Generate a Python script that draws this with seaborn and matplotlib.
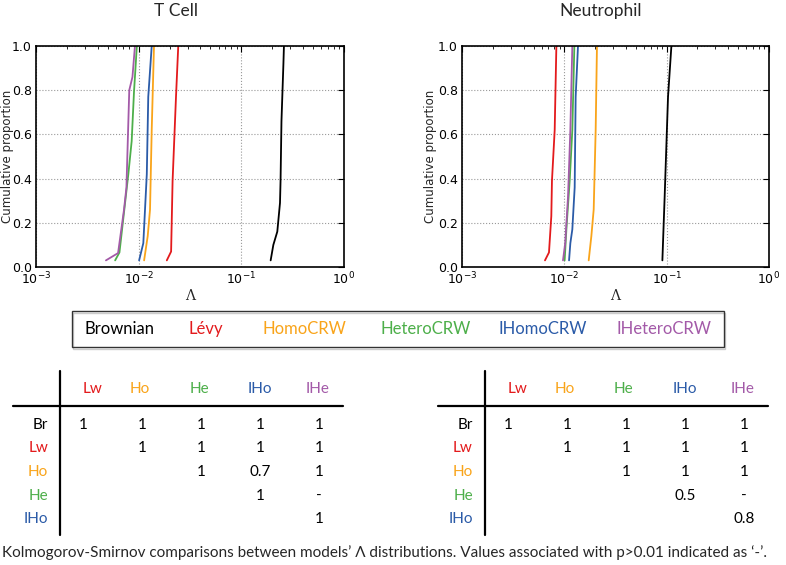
import matplotlib
matplotlib.use("Agg")
import matplotlib.pyplot as plt
import seaborn as sns
from matplotlib.patches import Rectangle
from matplotlib.ticker import LogLocator, MultipleLocator

# Modelos e cores
modelos = ["Brownian", "Lévy", "HomoCRW", "HeteroCRW", "IHomoCRW", "IHeteroCRW"]
cores = ["#000000", "#e31a1c", "#f9a41a", "#4daf4a", "#2b5ba8", "#a35aa8"]

# T Cell: valores de Lambda (x) e proporção acumulada (y)
tc_brownian_x = [0.193, 0.205, 0.224, 0.238, 0.241, 0.246, 0.257, 0.260]
tc_brownian_y = [0.03, 0.10, 0.16, 0.29, 0.39, 0.66, 0.92, 1.0]
tc_levy_x = [0.0188, 0.0207, 0.0214, 0.0231, 0.0243]
tc_levy_y = [0.03, 0.07, 0.39, 0.77, 1.0]
tc_homo_x = [0.0113, 0.01225, 0.0129, 0.0134, 0.0141]
tc_homo_y = [0.03, 0.14, 0.26, 0.62, 1.0]
tc_hetero_x = [0.0059, 0.0065, 0.00793, 0.00855, 0.0090, 0.0096]
tc_hetero_y = [0.03, 0.066, 0.42, 0.57, 0.79, 1.0]
tc_ihomo_x = [0.0101, 0.0111, 0.0120, 0.0124, 0.0134]
tc_ihomo_y = [0.03, 0.108, 0.42, 0.77, 1.0]
tc_ihetero_x = [0.0048, 0.0063, 0.0072, 0.0076, 0.0081, 0.0087, 0.0092]
tc_ihetero_y = [0.03, 0.063, 0.26, 0.36, 0.80, 0.86, 1.0]

# Neutrophil
ne_brownian_x = [0.0908, 0.0956, 0.1031, 0.1112]
ne_brownian_y = [0.03, 0.32, 0.77, 1.0]
ne_levy_x = [0.00647, 0.00708, 0.00746, 0.00757, 0.00805, 0.00836]
ne_levy_y = [0.03, 0.066, 0.23, 0.39, 0.62, 1.0]
ne_homo_x = [0.0173, 0.01837, 0.01936, 0.02024, 0.02084]
ne_homo_y = [0.03, 0.14, 0.26, 0.62, 1.0]
ne_hetero_x = [0.01007, 0.01047, 0.01128, 0.01197, 0.01253]
ne_hetero_y = [0.03, 0.17, 0.39, 0.62, 1.0]
ne_ihomo_x = [0.01112, 0.01145, 0.01197, 0.01262, 0.0129, 0.0136]
ne_ihomo_y = [0.03, 0.108, 0.17, 0.36, 0.77, 1.0]
ne_ihetero_x = [0.0097, 0.0102, 0.01087, 0.01145, 0.01197]
ne_ihetero_y = [0.03, 0.108, 0.32, 0.62, 1.0]

# Tabelas Kolmogorov-Smirnov
linhas_tab = ["Br", "Lw", "Ho", "He", "IHo"]
colunas_tab = ["Lw", "Ho", "He", "IHo", "IHe"]
tc_tabela_br = ["1", "1", "1", "1", "1"]
tc_tabela_lw = ["", "1", "1", "1", "1"]
tc_tabela_ho = ["", "", "1", "0.7", "1"]
tc_tabela_he = ["", "", "", "1", "-"]
tc_tabela_iho = ["", "", "", "", "1"]
ne_tabela_br = ["1", "1", "1", "1", "1"]
ne_tabela_lw = ["", "1", "1", "1", "1"]
ne_tabela_ho = ["", "", "1", "1", "1"]
ne_tabela_he = ["", "", "", "0.5", "-"]
ne_tabela_iho = ["", "", "", "", "0.8"]

legenda_texto = "Kolmogorov-Smirnov comparisons between models’ Λ distributions. Values associated with p>0.01 indicated as ‘-’."

sns.set_style("white")
plt.rcParams.update({
    "xtick.direction": "in", "ytick.direction": "in",
    "xtick.top": True, "ytick.right": True,
    "xtick.major.size": 4, "ytick.major.size": 4,
    "xtick.minor.size": 2, "ytick.minor.size": 2,
    "xtick.major.width": 0.8, "ytick.major.width": 0.8,
    "axes.edgecolor": "black", "axes.linewidth": 1.2,
    "xtick.labelsize": 9, "ytick.labelsize": 9,
    "xtick.color": "black", "ytick.color": "black",
    "font.size": 9,
})
plt.rcParams["font.family"] = ["DejaVu Sans"]
fonte_texto = ["Lato", "DejaVu Sans"]

fig = plt.figure(figsize=(7.86, 5.65), dpi=100)
W, H = 786, 565

def eixo(x0, x1, y0, y1):
    return fig.add_axes([x0 / W, 1 - y1 / H, (x1 - x0) / W, (y1 - y0) / H])

ax_tc = eixo(36, 344, 46, 267)
ax_ne = eixo(462, 769, 46, 267)

series_tc = [(tc_brownian_x, tc_brownian_y), (tc_levy_x, tc_levy_y), (tc_homo_x, tc_homo_y),
             (tc_hetero_x, tc_hetero_y), (tc_ihomo_x, tc_ihomo_y), (tc_ihetero_x, tc_ihetero_y)]
series_ne = [(ne_brownian_x, ne_brownian_y), (ne_levy_x, ne_levy_y), (ne_homo_x, ne_homo_y),
             (ne_hetero_x, ne_hetero_y), (ne_ihomo_x, ne_ihomo_y), (ne_ihetero_x, ne_ihetero_y)]

for ax, series, lx in [(ax_tc, series_tc, -0.072), (ax_ne, series_ne, -0.080)]:
    for (xs, ys), cor in zip(series, cores):
        sns.lineplot(x=xs, y=ys, ax=ax, color=cor, linewidth=1.3, sort=False, estimator=None)
    ax.set_xscale("log")
    ax.set_xlim(1e-3, 1)
    ax.set_ylim(0, 1)
    ax.xaxis.set_major_locator(LogLocator(base=10, numticks=10))
    ax.xaxis.set_minor_locator(LogLocator(base=10, subs=range(2, 10), numticks=20))
    ax.yaxis.set_major_locator(MultipleLocator(0.2))
    ax.yaxis.set_major_formatter(plt.FuncFormatter(lambda v, p: f"{v:.1f}"))
    ax.grid(True, which="major", linestyle=":", color="#999999", linewidth=0.8)
    ax.set_ylabel("Cumulative proportion", fontsize=8.5)
    ax.yaxis.set_label_coords(lx, 0.5)
    ax.set_xlabel("Λ", fontsize=10, family=["DejaVu Serif"], labelpad=1)
    ax.tick_params(which="both", top=True, right=True, pad=3)
    for s in ax.spines.values():
        s.set_visible(True)

# camada para textos e tabelas em coordenadas de pixels
ov = fig.add_axes([0, 0, 1, 1], zorder=-1)
ov.set_xlim(0, W)
ov.set_ylim(H, 0)
ov.axis("off")

ov.text(176, 11, "T Cell", fontsize=12.5, ha="center", va="center", family=fonte_texto)
ov.text(601, 11, "Neutrophil", fontsize=12.5, ha="center", va="center", family=fonte_texto)

# caixa de legenda
ov.add_patch(Rectangle((73, 312.5), 652, 36, fill=False, edgecolor="#cccccc", linewidth=1))
ov.add_patch(Rectangle((72, 311), 652, 36, fill=False, edgecolor="#333333", linewidth=1))
pos_leg = [85, 189, 263, 381, 499, 617]
for nome, cor, px in zip(modelos, cores, pos_leg):
    ov.text(px, 329, nome, color=cor, fontsize=12, ha="left", va="center", family=fonte_texto)

# tabelas
cor_cab = dict(zip(["Br", "Lw", "Ho", "He", "IHo", "IHe"], cores))
linhas_y = [425, 448, 472, 496, 519]

def tabela(linhas_valores, x_vert, x_hl0, x_hl1, x_rotulo, x_cab, x_val):
    ov.plot([x_vert, x_vert], [371, 535], color="black", linewidth=1.6)
    ov.plot([x_hl0, x_hl1], [405.5, 405.5], color="black", linewidth=1.6)
    for nome, px in zip(colunas_tab, x_cab):
        ov.text(px, 389, nome, color=cor_cab[nome], fontsize=11, ha="center", va="center", family=fonte_texto)
    for nome, vals, py in zip(linhas_tab, linhas_valores, linhas_y):
        ov.text(x_rotulo, py, nome, color=cor_cab[nome], fontsize=11, ha="right", va="center", family=fonte_texto)
        for v, px in zip(vals, x_val):
            ov.text(px, py, v, color="black", fontsize=11, ha="center", va="center", family=fonte_texto)

tabela([tc_tabela_br, tc_tabela_lw, tc_tabela_ho, tc_tabela_he, tc_tabela_iho],
       60, 13, 343, 48, [93, 140, 199, 260, 318], [83, 142, 201, 260, 319])
tabela([ne_tabela_br, ne_tabela_lw, ne_tabela_ho, ne_tabela_he, ne_tabela_iho],
       485, 438, 768, 473, [518, 565, 623, 685, 743], [508, 567, 626, 685, 744])

ov.text(2, 553, legenda_texto, fontsize=11, ha="left", va="center", family=fonte_texto)

fig.savefig("out.png", dpi=100)
